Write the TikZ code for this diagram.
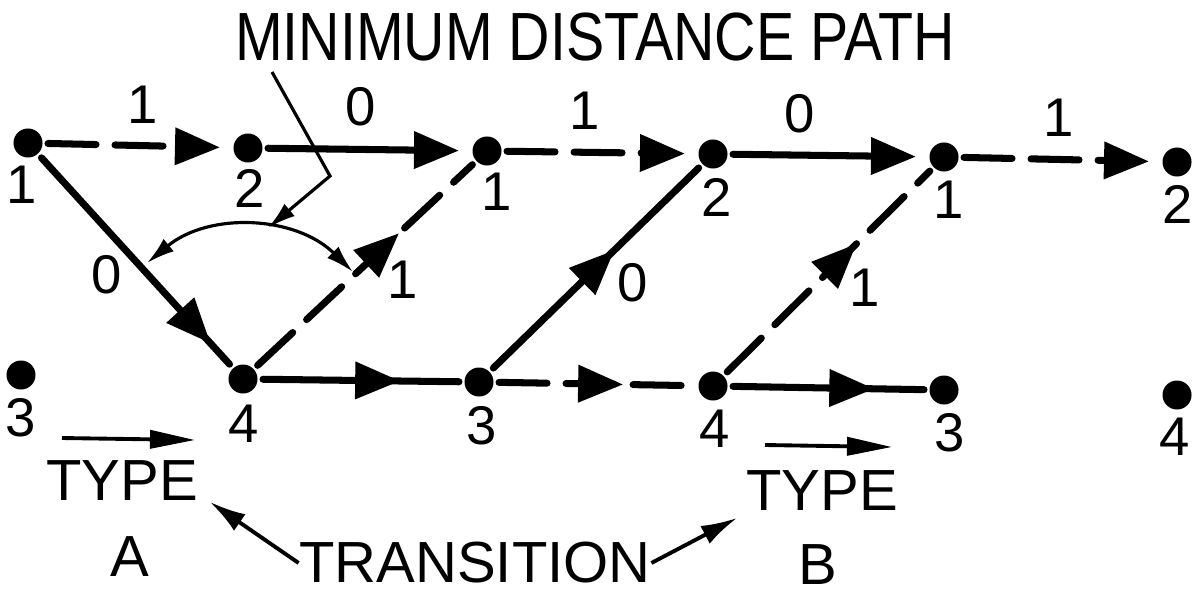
\documentclass[tikz,border=0pt]{standalone}
\usepackage{fontspec}
\setmainfont{Liberation Sans}
\usetikzlibrary{arrows.meta,decorations.markings}
\begin{document}
\begin{tikzpicture}[x=0.01cm,y=-0.01cm,
  dot/.style={circle,fill=black,inner sep=0pt,minimum size=0.29cm,outer sep=0.055cm},
  num/.style={inner sep=0pt,font=\fontsize{15.5}{16}\selectfont},
  word/.style={inner sep=0pt,font=\fontsize{16.5}{18}\selectfont},
  edge/.style={line width=2pt,line cap=round},
  dashedge/.style={edge,dash pattern=on 0.48cm off 0.19cm},
  bigtip/.style={-{Triangle[length=0.45cm,width=0.36cm]},shorten >=0.08cm},
  midtip/.style={postaction={decorate},decoration={markings,
     mark=at position #1 with {\arrow{Triangle[length=0.45cm,width=0.36cm]}}}},
  thinline/.style={line width=0.9pt},
  smalltip/.style={-{Latex[length=0.28cm,width=0.16cm]}},
  typearrow/.style={line width=1.1pt,-{Triangle[length=0.45cm,width=0.18cm]}},
  transarrow/.style={line width=1.1pt,-{Latex[length=0.36cm,width=0.2cm]}}
]
\useasboundingbox (0,0) rectangle (1201,594);

% states
\node[dot] (t1a) at (28,143) {};
\node[dot] (t2a) at (248,148) {};
\node[dot] (t1b) at (487,151) {};
\node[dot] (t2b) at (713,154) {};
\node[dot] (t1c) at (944,157) {};
\node[dot] (t2c) at (1177,162) {};
\node[dot] (b3a) at (21,375) {};
\node[dot] (b4a) at (243,379) {};
\node[dot] (b3b) at (479,382) {};
\node[dot] (b4b) at (713,386) {};
\node[dot] (b3c) at (944,390) {};
\node[dot] (b4c) at (1177,395) {};

% state labels
\node[num] (lt1a) at (22,185) {1};
\node[num] (lt2a) at (250,188) {2};
\node[num] (lt1b) at (497,192) {1};
\node[num] (lt2b) at (717,197) {2};
\node[num] (lt1c) at (949,200) {1};
\node[num] (lt2c) at (1178,204) {2};
\node[num] (lb3a) at (21,418) {3};
\node[num] (lb4a) at (244,424) {4};
\node[num] (lb3b) at (482,426) {3};
\node[num] (lb4b) at (715,429) {4};
\node[num] (lb3c) at (950,433) {3};
\node[num] (lb4c) at (1175,437) {4};

% top row transitions
\draw[dashedge,bigtip] (t1a) -- (t2a);
\draw[edge,bigtip] (t2a) -- (t1b);
\draw[dashedge,bigtip] (t1b) -- (t2b);
\draw[edge,bigtip] (t2b) -- (t1c);
\draw[dashedge,bigtip] (t1c) -- (t2c);

% diagonal transitions
\draw[edge,midtip=0.9] (t1a) -- (b4a);
\draw[dashedge,midtip=0.66] (b4a) -- (t1b);
\draw[edge,midtip=0.59] (b3b) -- (t2b);
\draw[dashedge,midtip=0.64] (b4b) -- (t1c);

% bottom row transitions
\draw[edge,midtip=0.7] (b4a) -- (b3b);
\draw[dashedge,midtip=0.64] (b3b) -- (b4b);
\draw[edge,midtip=0.74] (b4b) -- (b3c);

% edge labels
\node[num] (e1) at (143,105) {1};
\node[num] (e2) at (361,107) {0};
\node[num] (e3) at (585,111) {1};
\node[num] (e4) at (800,114) {0};
\node[num] (e5) at (1059,118) {1};
\node[num] (e6) at (107,275) {0};
\node[num] (e7) at (403,280) {1};
\node[num] (e8) at (633,283) {0};
\node[num] (e9) at (865,288) {1};

% minimum distance path
\node[inner sep=0pt,font=\fontsize{19.4}{21}\selectfont] (title) at (595,37)
  {\scalebox{0.84}[1]{MINIMUM DISTANCE PATH}};
\coordinate (p0) at (272,72);
\coordinate (p1) at (330,176);
\coordinate (p2) at (268,228);
\draw[thinline,smalltip] (p0) -- (p1) -- (p2);
\coordinate (arcL) at (147,263);
\coordinate (arcR) at (353,272);
\draw[thinline,{Latex[length=0.28cm,width=0.16cm]}-{Latex[length=0.28cm,width=0.16cm]}]
  (arcL) to[bend left=42] (arcR);

% transition types
\coordinate (taS) at (62,438);
\coordinate (taE) at (195,440);
\draw[typearrow] (taS) -- (taE);
\coordinate (tbS) at (765,445);
\coordinate (tbE) at (892,447);
\draw[typearrow] (tbS) -- (tbE);
\node[word] (typeA) at (122,481) {TYPE};
\node[word] (A) at (130,557) {A};
\node[word] (typeB) at (822,491) {TYPE};
\node[word] (B) at (818,565) {B};
\node[word] (trans) at (475,563) {TRANSITION};
\coordinate (tA) at (210,502);
\coordinate (tB) at (737,518);
\draw[transarrow] (trans.west) -- (tA);
\draw[transarrow] (trans.east) -- (tB);
\end{tikzpicture}
\end{document}
